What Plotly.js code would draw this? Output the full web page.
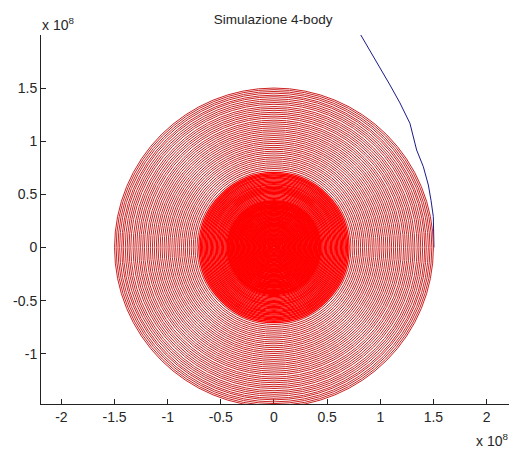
<!DOCTYPE html>
<html>
<head>
<meta charset="utf-8">
<script src="https://cdn.plot.ly/plotly-3.0.1.min.js"></script>
<style>
  html, body { margin: 0; padding: 0; background: #fff; }
  #chart { width: 509px; height: 451px; }
</style>
</head>
<body>
<div id="chart"></div>
<script>
// All distances are in units of 1e8 (shown by the "x 10^8" axis multipliers).

// Radii of the successive loops of the inner body's orbit around the origin
const orbitRadii = [
  1.500, 1.485, 1.468, 1.452, 1.433, 1.418, 1.399, 1.381, 1.364, 1.347,
  1.326, 1.309, 1.291, 1.272, 1.255, 1.236, 1.219, 1.198, 1.181, 1.163,
  1.144, 1.126, 1.107, 1.090, 1.071, 1.053, 1.034, 1.016, 0.997, 0.980,
  0.961, 0.942, 0.925, 0.906, 0.889, 0.870, 0.851, 0.834, 0.815, 0.797,
  0.779, 0.760, 0.743, 0.724, 0.707, 0.694, 0.682, 0.671, 0.659, 0.648,
  0.636, 0.625, 0.613, 0.601, 0.590, 0.578, 0.567, 0.555, 0.543, 0.532,
  0.520, 0.509, 0.497, 0.486, 0.474, 0.462, 0.451, 0.439, 0.428, 0.416,
  0.404, 0.393, 0.381, 0.370, 0.358, 0.346, 0.335, 0.323, 0.312, 0.300,
  0.288, 0.277, 0.265, 0.254, 0.242, 0.230, 0.219, 0.207, 0.196, 0.184,
  0.172, 0.161, 0.149, 0.138, 0.126, 0.114, 0.103, 0.091, 0.080, 0.068,
  0.056, 0.045, 0.034, 0.023, 0.012
];

// Trajectory of the escaping body
const escapeX = [1.505, 1.503, 1.499, 1.478, 1.452, 1.405, 1.342, 1.279, 1.185, 1.091, 0.931, 0.816];
const escapeY = [0.000, 0.150, 0.290, 0.440, 0.588, 0.760, 0.917, 1.168, 1.360, 1.529, 1.811, 2.000];

// Axis ticks
const xTicks = [-2, -1.5, -1, -0.5, 0, 0.5, 1, 1.5, 2];
const xTickText = ['-2', '-1.5', '-1', '-0.5', '0', '0.5', '1', '1.5', '2'];
const yTicks = [-1, -0.5, 0, 0.5, 1, 1.5];
const yTickText = ['-1', '-0.5', '0', '0.5', '1', '1.5'];

// Tighter loops are drawn a little thicker so the core reads as solid red
function loopWidth(r) {
  if (r < 0.45) return 1.8;
  if (r < 0.71) return 1.35;
  return 1;
}

const orbitShapes = orbitRadii.map(r => ({
  type: 'circle', xref: 'x', yref: 'y',
  x0: -r, x1: r, y0: -r, y1: r,
  line: { color: r < 0.71 ? '#ff0000' : '#cc2222', width: loopWidth(r) },
  layer: 'above'
}));

const traces = [{
  type: 'scatter', mode: 'lines',
  x: escapeX, y: escapeY,
  line: { color: '#1a1a8c', width: 1 },
  hoverinfo: 'skip'
}];

const FONT = 'Liberation Sans, Arial, sans-serif';
const axisFont = { family: FONT, size: 14, color: '#262626' };

const layout = {
  width: 509, height: 451,
  margin: { l: 41, r: 0, t: 35, b: 47 },
  paper_bgcolor: '#fff', plot_bgcolor: '#fff',
  showlegend: false,
  title: {
    text: 'Simulazione 4-body',
    font: { family: FONT, size: 13.5, color: '#262626' },
    x: 0.496, xref: 'paper', xanchor: 'center',
    y: 0.958, yref: 'container', yanchor: 'middle'
  },
  xaxis: {
    range: [-2.192, 2.211],
    tickmode: 'array', tickvals: xTicks, ticktext: xTickText,
    ticks: 'inside', ticklen: 5, tickcolor: '#222',
    showline: true, linecolor: '#222', linewidth: 1,
    showgrid: false, zeroline: false, mirror: false,
    tickfont: axisFont, fixedrange: true
  },
  yaxis: {
    range: [-1.472, 1.999],
    tickmode: 'array', tickvals: yTicks, ticktext: yTickText,
    ticks: 'inside', ticklen: 5, tickcolor: '#222',
    showline: true, linecolor: '#222', linewidth: 1,
    showgrid: false, zeroline: false, mirror: false,
    tickfont: axisFont, fixedrange: true
  },
  shapes: orbitShapes,
  annotations: [
    {
      text: 'x 10<sup>8</sup>', showarrow: false,
      xref: 'paper', yref: 'paper', x: 0, y: 1, xanchor: 'left', yanchor: 'bottom',
      xshift: -1, yshift: 0,
      font: { family: FONT, size: 14, color: '#262626' }
    },
    {
      text: 'x 10<sup>8</sup>', showarrow: false,
      xref: 'paper', yref: 'paper', x: 1, y: 0, xanchor: 'right', yanchor: 'top',
      xshift: 1, yshift: -25,
      font: { family: FONT, size: 14, color: '#262626' }
    }
  ]
};

Plotly.newPlot('chart', traces, layout, { displayModeBar: false, staticPlot: true });
</script>
</body>
</html>
